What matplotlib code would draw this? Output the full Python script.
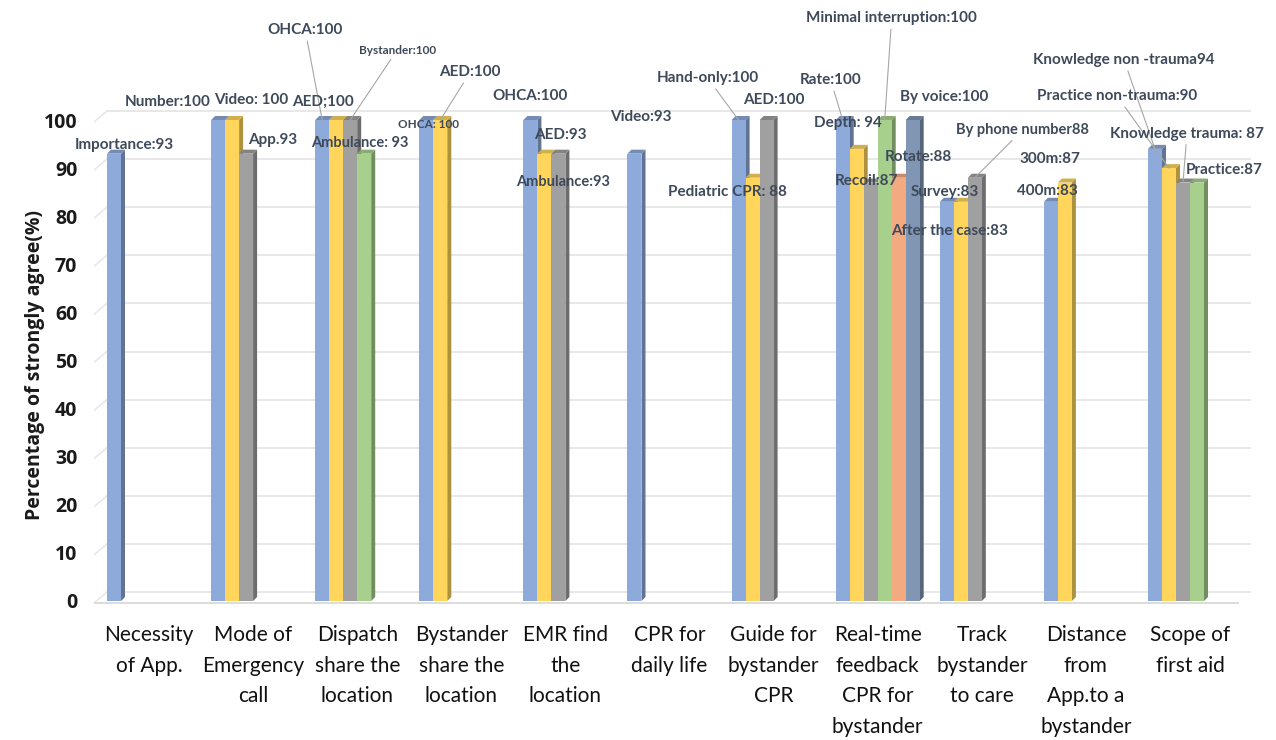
import matplotlib as mpl
import matplotlib.pyplot as plt
from matplotlib.patches import Polygon

categories = ['Necessity\nof App.', 'Mode of\nEmergency\ncall', 'Dispatch\nshare the\nlocation',
              'Bystander\nshare the\nlocation', 'EMR find\nthe\nlocation', 'CPR for\ndaily life',
              'Guide for\nbystander\nCPR', 'Real-time\nfeedback\nCPR for\nbystander',
              'Track\nbystander\nto care', 'Distance\nfrom\nApp.to a\nbystander', 'Scope of\nfirst aid']

# six answer slots per question, None where a question has fewer items
s1 = [93, 100, 100, 100, 100, 93, 100, 100, 83, 83, 94]
s2 = [None, 100, 100, 100, 93, None, 88, 94, 83, 87, 90]
s3 = [None, 93, 100, None, 93, None, 100, 87, 88, None, 87]
s4 = [None, None, 93, None, None, None, None, 100, None, None, 87]
s5 = [None, None, None, None, None, None, None, 88, None, None, None]
s6 = [None, None, None, None, None, None, None, 100, None, None, None]
series = [s1, s2, s3, s4, s5, s6]

colors = ['#8eaadb', '#ffd55c', '#a0a0a0', '#a8d08d', '#f4aa80', '#8096b4']

# (slot, group, text before the value)
labels = [
    (0, 0, 'Importance:'),
    (0, 1, 'Number:'), (1, 1, 'Video: '), (2, 1, 'App.'),
    (0, 2, 'OHCA:'), (1, 2, 'AED;'), (2, 2, 'Bystander:'), (3, 2, 'Ambulance: '),
    (0, 3, 'OHCA: '), (1, 3, 'AED:'),
    (0, 4, 'OHCA:'), (1, 4, 'AED:'), (2, 4, 'Ambulance:'),
    (0, 5, 'Video:'),
    (0, 6, 'Hand-only:'), (1, 6, 'Pediatric CPR: '), (2, 6, 'AED:'),
    (0, 7, 'Rate:'), (1, 7, 'Depth: '), (2, 7, 'Recoil:'), (3, 7, 'Minimal interruption:'),
    (4, 7, 'Rotate:'), (5, 7, 'By voice:'),
    (0, 8, 'After the case:'), (1, 8, 'Survey:'), (2, 8, 'By phone number'),
    (0, 9, '400m:'), (1, 9, '300m:'),
    (0, 10, 'Knowledge non -trauma'), (1, 10, 'Practice non-trauma:'),
    (2, 10, 'Knowledge trauma: '), (3, 10, 'Practice:'),
]
# label offsets from the bar top in pixels, font size, leader line
label_style = [
    (10, 9, 11, False),
    (-50, 18, 11, False), (19, 20, 11, False), (27, 14, 11, False),
    (-17, 90, 11, True), (-13, 18, 11, False), (47, 70, 8.5, True), (-4, 11, 10.5, False),
    (2, -5, 8.5, False), (30, 48, 11, True),
    (0, 24, 11, False), (16, 19, 11, False), (5, -28, 10.5, False),
    (6, 37, 11, False),
    (-31, 42, 11, True), (-25, -14, 11, False), (7, 20, 11, False),
    (-12, 40, 11, True), (-9, 26, 11, False), (-4, 2, 11, False), (7, 102, 11, True),
    (20, 21, 11, False), (31, 23, 11, False),
    (3, -29, 11, False), (-16, 10, 11, False), (48, 48, 10.5, True),
    (-4, 11, 11, False), (-15, 24, 11, False),
    (-31, 89, 11, True), (-52, 72, 11, True), (4, 49, 11, True), (27, 13, 11, False),
]

mpl.rcParams['font.family'] = ['Lato', 'DejaVu Sans']

px_x = 104.1          # pixels per group
px_y = 4.81           # pixels per percent
w = 14 / px_x         # bar width
ddx, ddy = 4 / px_x, 4 / px_y   # 3D depth


def shade(c, f):
    r, g, b = mpl.colors.to_rgb(c)
    return (r * f, g * f, b * f)


fig = plt.figure(figsize=(12.76, 7.4), dpi=100)
ax = fig.add_axes([94 / 1276, 130 / 740, 1158 / 1276, 610 / 740])
ax.set_xlim(-55 / px_x, 1103 / px_x)
ax.set_ylim(-9 / px_y, 601 / px_y)
for s in ax.spines.values():
    s.set_visible(False)

# back wall gridlines with slanted floor stubs
gy = 9 / px_y
gx0, gx1 = -42 / px_x, 1101 / px_x
for v in range(0, 101, 10):
    ax.plot([gx0, gx1], [v + gy, v + gy], color='#e8e8e8', lw=1.4, zorder=1)
    ax.plot([-55 / px_x, gx0], [v - 0.4, v + gy], color='#e8e8e8', lw=1.2, zorder=1)
ax.plot([-55 / px_x, 1089 / px_x], [-0.4, -0.4], color='#dcdcdc', lw=1.4, zorder=1)

groups = list(range(len(categories)))
for k, vals in enumerate(series):
    xs = [g + (k - 2.5) * w for g, v in zip(groups, vals) if v is not None]
    hs = [v for v in vals if v is not None]
    ax.bar(xs, hs, width=w, color=colors[k], zorder=10 + 2 * k, linewidth=0)
    for x, h in zip(xs, hs):
        r = x + w / 2
        side = Polygon([(r, 0), (r + ddx, ddy), (r + ddx, h + ddy), (r, h)],
                       closed=True, color=shade(colors[k], 0.68), lw=0, zorder=9 + 2 * k)
        top = Polygon([(x - w / 2, h), (x - w / 2 + ddx, h + ddy), (r + ddx, h + ddy), (r, h)],
                      closed=True, color=shade(colors[k], 0.82), lw=0, zorder=9 + 2 * k)
        ax.add_patch(side)
        ax.add_patch(top)

for (k, g, prefix), (dx, dy, size, leader) in zip(labels, label_style):
    v = series[k][g]
    x = g + (k - 2.5) * w
    props = dict(arrowstyle='-', color='#a6a6a6', lw=0.8, shrinkA=1, shrinkB=0) if leader else None
    ax.annotate(f'{prefix}{v}', xy=(x, v), xytext=(dx, dy), textcoords='offset pixels',
                ha='center', va='center', fontsize=size, color='#3e4a5a',
                fontweight='bold',
                arrowprops=props, annotation_clip=False, zorder=30)

ax.set_yticks(range(0, 101, 10))
ax.set_yticklabels([str(v) for v in range(0, 101, 10)], fontsize=14, fontweight='bold',
                   family='Open Sans', color='#1a1a1a')
ax.set_xticks(groups)
ax.set_xticklabels(categories, fontsize=15, linespacing=1.66, va='top', color='#111111')
ax.tick_params(axis='y', length=0, pad=12)
ax.tick_params(axis='x', length=0, pad=11)

fig.text(35 / 1276, 1 - 365 / 740, 'Percentage of strongly agree(%)', rotation=90,
         ha='center', va='center', fontsize=14, fontweight='bold', family='Open Sans',
         color='#1a1a1a')

fig.savefig('out.png', dpi=100)
